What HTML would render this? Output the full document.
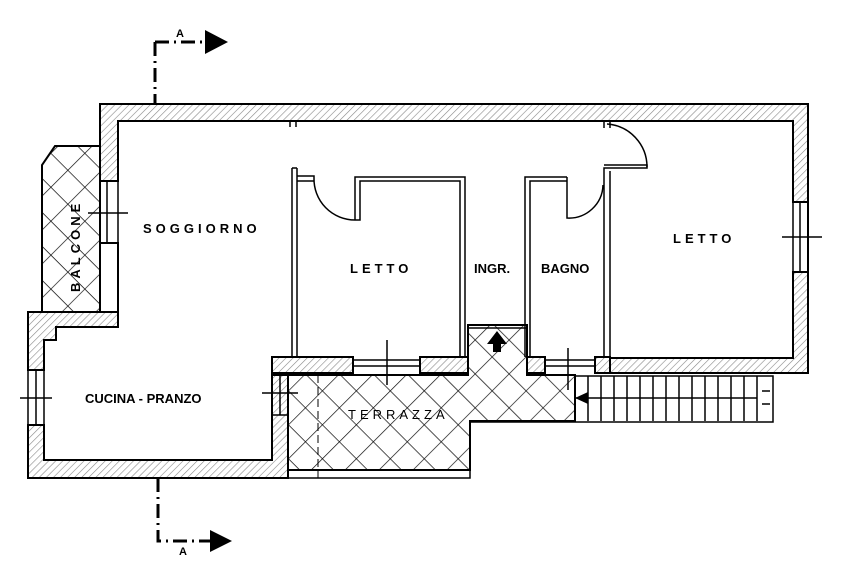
<!DOCTYPE html>
<html><head><style>body{margin:0;background:#fff}svg{display:block}</style></head><body>
<svg width="851" height="563" viewBox="0 0 851 563" xmlns="http://www.w3.org/2000/svg" font-family="Liberation Sans, sans-serif">
<defs>
<pattern id="h" width="5" height="5" patternUnits="userSpaceOnUse" patternTransform="rotate(45)"><rect width="5" height="5" fill="#fff"/><line x1="0" y1="0" x2="0" y2="5" stroke="#888" stroke-width="1.2"/></pattern>
<pattern id="x" width="24" height="24" patternUnits="userSpaceOnUse" patternTransform="rotate(45)"><rect width="24" height="24" fill="#fff"/><path d="M0 0H24M0 0V24" stroke="#111" stroke-width="1.4"/></pattern>
</defs>
<g stroke="#000" stroke-width="2">
<path d="M55 146H100V312H42V165Z" fill="url(#x)"/>
<path d="M288 375H468V325H527V375H575V421H470V470H288Z" fill="url(#x)"/>
<g stroke-width="1.5" fill="none">
<path d="M575 376H773V422H470"/>
<path d="M588 376V421M601 376V421M614 376V421M627 376V421M640 376V421M653 376V421M666 376V421M679 376V421M692 376V421M705 376V421M718 376V421M731 376V421M744 376V421M757 376V421M575 398H757M762 391H770M762 404H770"/>
<path d="M470 421V478H288M288 478V470"/>
<path d="M318 375V478" stroke-dasharray="8,4" stroke-width="1"/>
</g>
<path d="M100 104H808V373H610V358H793V272H808V202H793V121H118V181H100Z" fill="url(#h)"/>
<path d="M100 243H118V312H28V370H44V340H56V327H118V243Z" fill="url(#h)"/>
<path d="M28 425H44V460H272V375H288V478H28Z" fill="url(#h)" />
<path d="M272 357H353V373H272Z M420 357H468V373H420Z M527 357H545V373H527Z M595 357H610V373H595Z" fill="url(#h)"/>
</g>
<g stroke="#000" stroke-width="1.5" fill="none">
<path d="M100 181H118V243H100Z M107 181V243"/>
<path d="M28 370H44V425H28Z M36 370V425"/>
<path d="M793 202H808V272H793Z M800 202V272"/>
<path d="M272 375H288V415H272Z M280 375V415"/>
<path d="M353 360H420M353 366H420M545 360H595M545 366H595"/>
<path d="M468 328H527M527 357V325M468 357V325"/>
<path d="M88 213H128M20 398H52M782 237H822M262 393H298M387 340V385M568 348V390"/>
<path d="M292 168V357M297 168V357M292 168H297"/>
<path d="M297 176H314V181H297M314 178A41 41 0 0 0 355 220"/>
<path d="M355 220V177H465V357M355 220H360V181H460V357"/>
<path d="M525 357V177H567M530 357V181H567V177M567 181V218A34 34 0 0 0 603 185"/>
<path d="M604 357V168H647V165H604M610 357V171"/>
<path d="M647 167A43 43 0 0 0 607 124M604 121V128M610 121V128M290 121V127M296 121V127"/>
<path d="M155 42V104M155 42H205M158 478V541H210" stroke-width="3" stroke-dasharray="14,5,2,5"/>
</g>
<path d="M205 30L228 42L205 54Z M210 530L232 541L210 552Z" fill="#000"/>
<path d="M575 398L588 392V404Z" fill="#000"/>
<path d="M497 331L507 344H501V352H493V344H487Z" fill="#000"/>
<g font-weight="bold" font-size="13" fill="#000">
<text x="180" y="37" text-anchor="middle" font-size="11">A</text>
<text x="183" y="555" text-anchor="middle" font-size="11">A</text>
<text x="143" y="233" letter-spacing="4">SOGGIORNO</text>
<text x="350" y="273" letter-spacing="4">LETTO</text>
<text x="474" y="273">INGR.</text>
<text x="541" y="273">BAGNO</text>
<text x="673" y="243" letter-spacing="4">LETTO</text>
<text x="85" y="403">CUCINA - PRANZO</text>
<text x="348" y="419" letter-spacing="4" font-weight="normal">TERRAZZA</text>
<text transform="translate(80,292) rotate(-90)" letter-spacing="4">BALCONE</text>
</g>
</svg>
</body></html>
